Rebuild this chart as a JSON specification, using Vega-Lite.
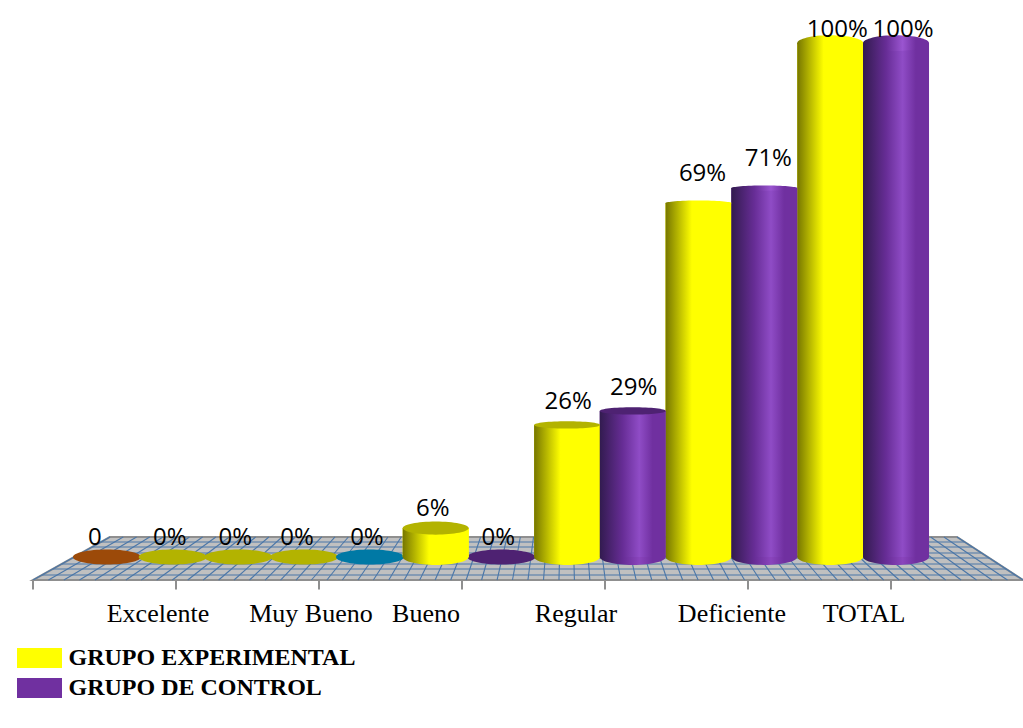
{"$schema":"https://vega.github.io/schema/vega-lite/v6.json","width":1023,"height":728,"padding":0,"autosize":{"type":"none"},"background":"white","config":{"view":{"stroke":null}},
"datasets":{
"cyl":[{"x":0.517,"y":0,"label":"0","series":"Serie A"},{"x":0.977,"y":0,"label":"0%","series":"GRUPO EXPERIMENTAL"},{"x":1.436,"y":0,"label":"0%","series":"GRUPO EXPERIMENTAL"},{"x":1.896,"y":0,"label":"0%","series":"GRUPO EXPERIMENTAL"},{"x":2.356,"y":0,"label":"0%","series":"Serie B"},{"x":2.816,"y":5.6,"label":"6%","series":"GRUPO EXPERIMENTAL"},{"x":3.275,"y":0,"label":"0%","series":"GRUPO DE CONTROL"},{"x":3.735,"y":25.6,"label":"26%","series":"GRUPO EXPERIMENTAL"},{"x":4.194,"y":28.3,"label":"29%","series":"GRUPO DE CONTROL"},{"x":4.654,"y":68.6,"label":"69%","series":"GRUPO EXPERIMENTAL"},{"x":5.114,"y":71.5,"label":"71%","series":"GRUPO DE CONTROL"},{"x":5.575,"y":99.6,"label":"100%","series":"GRUPO EXPERIMENTAL"},{"x":6.035,"y":99.6,"label":"100%","series":"GRUPO DE CONTROL"}],
"depth":[{"y":2.91,"x":0.476,"x2":6.515},{"y":1.94,"x":0.413,"x2":6.569},{"y":0.78,"x":0.338,"x2":6.634},{"y":-0.19,"x":0.276,"x2":6.687},{"y":-1.36,"x":0.201,"x2":6.751},{"y":-2.33,"x":0.138,"x2":6.805},{"y":-3.49,"x":0.063,"x2":6.869}],
"floorlines":[{"y":3.88,"y2":-4.46,"x":0.539,"x2":0},{"y":3.88,"y2":-4.46,"x":0.631,"x2":0.108},{"y":3.88,"y2":-4.46,"x":0.724,"x2":0.216},{"y":3.88,"y2":-4.46,"x":0.816,"x2":0.325},{"y":3.88,"y2":-4.46,"x":0.909,"x2":0.433},{"y":3.88,"y2":-4.46,"x":1.001,"x2":0.541},{"y":3.88,"y2":-4.46,"x":1.094,"x2":0.649},{"y":3.88,"y2":-4.46,"x":1.186,"x2":0.757},{"y":3.88,"y2":-4.46,"x":1.279,"x2":0.865},{"y":3.88,"y2":-4.46,"x":1.372,"x2":0.974},{"y":3.88,"y2":-4.46,"x":1.464,"x2":1.082},{"y":3.88,"y2":-4.46,"x":1.557,"x2":1.19},{"y":3.88,"y2":-4.46,"x":1.649,"x2":1.298},{"y":3.88,"y2":-4.46,"x":1.742,"x2":1.406},{"y":3.88,"y2":-4.46,"x":1.834,"x2":1.514},{"y":3.88,"y2":-4.46,"x":1.927,"x2":1.623},{"y":3.88,"y2":-4.46,"x":2.019,"x2":1.731},{"y":3.88,"y2":-4.46,"x":2.112,"x2":1.839},{"y":3.88,"y2":-4.46,"x":2.205,"x2":1.947},{"y":3.88,"y2":-4.46,"x":2.297,"x2":2.055},{"y":3.88,"y2":-4.46,"x":2.39,"x2":2.163},{"y":3.88,"y2":-4.46,"x":2.482,"x2":2.272},{"y":3.88,"y2":-4.46,"x":2.575,"x2":2.38},{"y":3.88,"y2":-4.46,"x":2.667,"x2":2.488},{"y":3.88,"y2":-4.46,"x":2.76,"x2":2.596},{"y":3.88,"y2":-4.46,"x":2.853,"x2":2.704},{"y":3.88,"y2":-4.46,"x":2.945,"x2":2.812},{"y":3.88,"y2":-4.46,"x":3.038,"x2":2.921},{"y":3.88,"y2":-4.46,"x":3.13,"x2":3.029},{"y":3.88,"y2":-4.46,"x":3.223,"x2":3.137},{"y":3.88,"y2":-4.46,"x":3.315,"x2":3.245},{"y":3.88,"y2":-4.46,"x":3.408,"x2":3.353},{"y":3.88,"y2":-4.46,"x":3.5,"x2":3.461},{"y":3.88,"y2":-4.46,"x":3.593,"x2":3.57},{"y":3.88,"y2":-4.46,"x":3.686,"x2":3.678},{"y":3.88,"y2":-4.46,"x":3.778,"x2":3.786},{"y":3.88,"y2":-4.46,"x":3.871,"x2":3.894},{"y":3.88,"y2":-4.46,"x":3.963,"x2":4.002},{"y":3.88,"y2":-4.46,"x":4.056,"x2":4.11},{"y":3.88,"y2":-4.46,"x":4.148,"x2":4.218},{"y":3.88,"y2":-4.46,"x":4.241,"x2":4.327},{"y":3.88,"y2":-4.46,"x":4.333,"x2":4.435},{"y":3.88,"y2":-4.46,"x":4.426,"x2":4.543},{"y":3.88,"y2":-4.46,"x":4.519,"x2":4.651},{"y":3.88,"y2":-4.46,"x":4.611,"x2":4.759},{"y":3.88,"y2":-4.46,"x":4.704,"x2":4.867},{"y":3.88,"y2":-4.46,"x":4.796,"x2":4.976},{"y":3.88,"y2":-4.46,"x":4.889,"x2":5.084},{"y":3.88,"y2":-4.46,"x":4.981,"x2":5.192},{"y":3.88,"y2":-4.46,"x":5.074,"x2":5.3},{"y":3.88,"y2":-4.46,"x":5.167,"x2":5.408},{"y":3.88,"y2":-4.46,"x":5.259,"x2":5.516},{"y":3.88,"y2":-4.46,"x":5.352,"x2":5.625},{"y":3.88,"y2":-4.46,"x":5.444,"x2":5.733},{"y":3.88,"y2":-4.46,"x":5.537,"x2":5.841},{"y":3.88,"y2":-4.46,"x":5.629,"x2":5.949},{"y":3.88,"y2":-4.46,"x":5.722,"x2":6.057},{"y":3.88,"y2":-4.46,"x":5.814,"x2":6.165},{"y":3.88,"y2":-4.46,"x":5.907,"x2":6.274},{"y":3.88,"y2":-4.46,"x":6.0,"x2":6.382},{"y":3.88,"y2":-4.46,"x":6.092,"x2":6.49},{"y":3.88,"y2":-4.46,"x":6.185,"x2":6.598},{"y":3.88,"y2":-4.46,"x":6.277,"x2":6.706},{"y":3.88,"y2":-4.46,"x":6.37,"x2":6.814},{"y":3.88,"y2":-4.46,"x":6.462,"x2":6.923}],
"ticks":[{"x":0,"y":-4.46,"y2":-6.3},{"x":1,"y":-4.46,"y2":-6.3},{"x":2,"y":-4.46,"y2":-6.3},{"x":3,"y":-4.46,"y2":-6.3},{"x":4,"y":-4.46,"y2":-6.3},{"x":5,"y":-4.46,"y2":-6.3},{"x":6,"y":-4.46,"y2":-6.3}],
"cats":[{"x":0.874,"y":-11.05,"cat":"Excelente"},{"x":1.944,"y":-11.05,"cat":"Muy Bueno"},{"x":2.748,"y":-11.05,"cat":"Bueno"},{"x":3.797,"y":-11.05,"cat":"Regular"},{"x":4.888,"y":-11.05,"cat":"Deficiente"},{"x":5.811,"y":-11.05,"cat":"TOTAL"}]
},
"data":{"name":"cyl"},
"encoding":{
"x":{"field":"x","type":"quantitative","scale":{"domain":[-0.2308,6.923],"nice":false,"zero":false,"padding":0},"axis":null},
"y":{"field":"y","type":"quantitative","scale":{"domain":[-33.14,107.95],"nice":false,"zero":false,"padding":0},"axis":null}
},
"layer":[
{"data":{"values":[{"y":3.88,"x":0.5385,"x2":6.4615},{"y":-4.46,"x":0,"x2":6.923}]},"mark":{"type":"area","orient":"horizontal","fill":"#c0c0c0","stroke":"#8f8f8f","strokeWidth":2},"encoding":{"x2":{"field":"x2"}}},
{"data":{"name":"depth"},"mark":{"type":"rule","color":"#4a76a8","strokeWidth":1.1},"encoding":{"x2":{"field":"x2"}}},
{"data":{"name":"floorlines"},"mark":{"type":"rule","color":"#4a76a8","strokeWidth":1.1},"encoding":{"x2":{"field":"x2"},"y2":{"field":"y2"}}},
{"data":{"name":"ticks"},"mark":{"type":"rule","color":"#8f8f8f","strokeWidth":2},"encoding":{"y2":{"field":"y2"}}},
{"transform":[{"filter":"datum.y==0"}],"mark":{"type":"point","filled":true,"opacity":1,"size":4624,"shape":"M-1,0A1,0.22,0,1,1,1,0A1,0.22,0,1,1,-1,0Z","strokeWidth":0},"encoding":{"fill":{"field":"series","type":"nominal","legend":null,"scale":{"domain":["Serie A","GRUPO EXPERIMENTAL","Serie B","GRUPO DE CONTROL"],"range":["#9c4a09","#b3b300","#0079a5","#4e2272"]}}}},
{"transform":[{"filter":"datum.y>0"}],"mark":{"type":"bar","size":66,"orient":"vertical"},"encoding":{"y2":{"datum":0},"color":{"field":"series","type":"nominal","scale":{"domain":["GRUPO EXPERIMENTAL","GRUPO DE CONTROL"],"range":["#ffff00","#7030a0"]},"legend":{"orient":"none","legendX":27.5,"legendY":646,"title":null,"symbolType":"M-2.25,-1H2.25V1H-2.25Z","symbolSize":400,"symbolStrokeWidth":0,"symbolOpacity":1,"labelFont":"Liberation Serif","labelFontWeight":"bold","labelFontSize":24,"labelColor":"black","labelLimit":500,"labelOffset":17,"rowPadding":6}}}},
{"transform":[{"filter":"datum.y>0 && datum.series=='GRUPO EXPERIMENTAL'"}],"mark":{"type":"point","filled":true,"opacity":1,"size":4356,"shape":"M-1,0A1,0.24,0,1,1,1,0A1,0.24,0,1,1,-1,0Z","strokeWidth":0,"fill":{"x1":0,"x2":1,"y1":0,"y2":0,"gradient":"linear","stops":[{"offset":0,"color":"#767600"},{"offset":0.4,"color":"#ffff00"},{"offset":1,"color":"#ffff00"}]}},"encoding":{"y":{"datum":0}}},
{"transform":[{"filter":"datum.y>0 && datum.series=='GRUPO DE CONTROL'"}],"mark":{"type":"point","filled":true,"opacity":1,"size":4356,"shape":"M-1,0A1,0.24,0,1,1,1,0A1,0.24,0,1,1,-1,0Z","strokeWidth":0,"fill":{"x1":0,"x2":1,"y1":0,"y2":0,"gradient":"linear","stops":[{"offset":0,"color":"#321b4f"},{"offset":0.35,"color":"#672d96"},{"offset":0.6,"color":"#8a45bd"},{"offset":0.8,"color":"#7030a0"},{"offset":1,"color":"#7030a0"}]}},"encoding":{"y":{"datum":0}}},
{"transform":[{"filter":"datum.y>0 && datum.series=='GRUPO EXPERIMENTAL'"}],"mark":{"type":"bar","size":66,"orient":"vertical","fill":{"x1":0,"x2":1,"y1":0,"y2":0,"gradient":"linear","stops":[{"offset":0,"color":"#767600"},{"offset":0.4,"color":"#ffff00"},{"offset":1,"color":"#ffff00"}]}},"encoding":{"y2":{"datum":0}}},
{"transform":[{"filter":"datum.y>0 && datum.series=='GRUPO DE CONTROL'"}],"mark":{"type":"bar","size":66,"orient":"vertical","fill":{"x1":0,"x2":1,"y1":0,"y2":0,"gradient":"linear","stops":[{"offset":0,"color":"#321b4f"},{"offset":0.35,"color":"#672d96"},{"offset":0.6,"color":"#8f4cc6"},{"offset":0.8,"color":"#7030a0"},{"offset":1,"color":"#7030a0"}]}},"encoding":{"y2":{"datum":0}}},
{"transform":[{"filter":"datum.label=='6%'"}],"mark":{"type":"point","filled":true,"opacity":1,"size":4356,"shape":"M-1,0A1,0.2,0,1,1,1,0A1,0.2,0,1,1,-1,0Z","strokeWidth":0},"encoding":{"fill":{"field":"series","type":"nominal","legend":null}}},
{"transform":[{"filter":"datum.label=='26%' || datum.label=='29%'"}],"mark":{"type":"point","filled":true,"opacity":1,"size":4356,"shape":"M-1,0A1,0.11,0,1,1,1,0A1,0.11,0,1,1,-1,0Z","strokeWidth":0},"encoding":{"fill":{"field":"series","type":"nominal","legend":null}}},
{"transform":[{"filter":"datum.label=='69%'"}],"mark":{"type":"point","filled":true,"opacity":1,"size":4356,"shape":"M-1,0A1,0.08,0,1,1,1,0A1,0.08,0,1,1,-1,0Z","strokeWidth":0,"fill":{"x1":0,"x2":1,"y1":0,"y2":0,"gradient":"linear","stops":[{"offset":0,"color":"#767600"},{"offset":0.4,"color":"#ffff00"},{"offset":1,"color":"#ffff00"}]}}},
{"transform":[{"filter":"datum.label=='71%'"}],"mark":{"type":"point","filled":true,"opacity":1,"size":4356,"shape":"M-1,0A1,0.08,0,1,1,1,0A1,0.08,0,1,1,-1,0Z","strokeWidth":0,"fill":{"x1":0,"x2":1,"y1":0,"y2":0,"gradient":"linear","stops":[{"offset":0,"color":"#321b4f"},{"offset":0.35,"color":"#672d96"},{"offset":0.6,"color":"#9a55d0"},{"offset":0.8,"color":"#7030a0"},{"offset":1,"color":"#7030a0"}]}}},
{"transform":[{"filter":"datum.label=='100%' && datum.series=='GRUPO EXPERIMENTAL'"}],"mark":{"type":"point","filled":true,"opacity":1,"size":4356,"shape":"M-1,0A1,0.24,0,1,1,1,0A1,0.24,0,1,1,-1,0Z","strokeWidth":0,"fill":{"x1":0,"x2":1,"y1":0,"y2":0,"gradient":"linear","stops":[{"offset":0,"color":"#767600"},{"offset":0.4,"color":"#ffff00"},{"offset":1,"color":"#ffff00"}]}}},
{"transform":[{"filter":"datum.label=='100%' && datum.series=='GRUPO DE CONTROL'"}],"mark":{"type":"point","filled":true,"opacity":1,"size":4356,"shape":"M-1,0A1,0.24,0,1,1,1,0A1,0.24,0,1,1,-1,0Z","strokeWidth":0,"fill":{"x1":0,"x2":1,"y1":0,"y2":0,"gradient":"linear","stops":[{"offset":0,"color":"#321b4f"},{"offset":0.35,"color":"#672d96"},{"offset":0.6,"color":"#9a55d0"},{"offset":0.8,"color":"#7030a0"},{"offset":1,"color":"#7030a0"}]}}},
{"transform":[{"filter":"datum.label=='0'"}],"mark":{"type":"text","font":"Open Sans","fontSize":24,"color":"black","baseline":"middle","dy":-19,"dx":-12},"encoding":{"text":{"field":"label"}}},
{"transform":[{"filter":"datum.y<10 && datum.label!='0' && datum.x!=1.896"}],"mark":{"type":"text","font":"Open Sans","fontSize":24,"color":"black","baseline":"middle","dy":-19,"dx":-3},"encoding":{"text":{"field":"label"}}},
{"transform":[{"filter":"datum.x==1.896"}],"mark":{"type":"text","font":"Open Sans","fontSize":24,"color":"black","baseline":"middle","dy":-19,"dx":-7},"encoding":{"text":{"field":"label"}}},
{"transform":[{"filter":"datum.label=='26%' || datum.label=='29%'"}],"mark":{"type":"text","font":"Open Sans","fontSize":24,"color":"black","baseline":"middle","dy":-23,"dx":1},"encoding":{"text":{"field":"label"}}},
{"transform":[{"filter":"datum.label=='69%' || datum.label=='71%'"}],"mark":{"type":"text","font":"Open Sans","fontSize":24,"color":"black","baseline":"middle","dy":-29,"dx":4},"encoding":{"text":{"field":"label"}}},
{"transform":[{"filter":"datum.label=='100%'"}],"mark":{"type":"text","font":"Open Sans","fontSize":24,"color":"black","baseline":"middle","dy":-13,"dx":7},"encoding":{"text":{"field":"label"}}},
{"data":{"name":"cats"},"mark":{"type":"text","font":"Liberation Serif","fontSize":26,"color":"black","baseline":"middle"},"encoding":{"text":{"field":"cat"}}}
]}
